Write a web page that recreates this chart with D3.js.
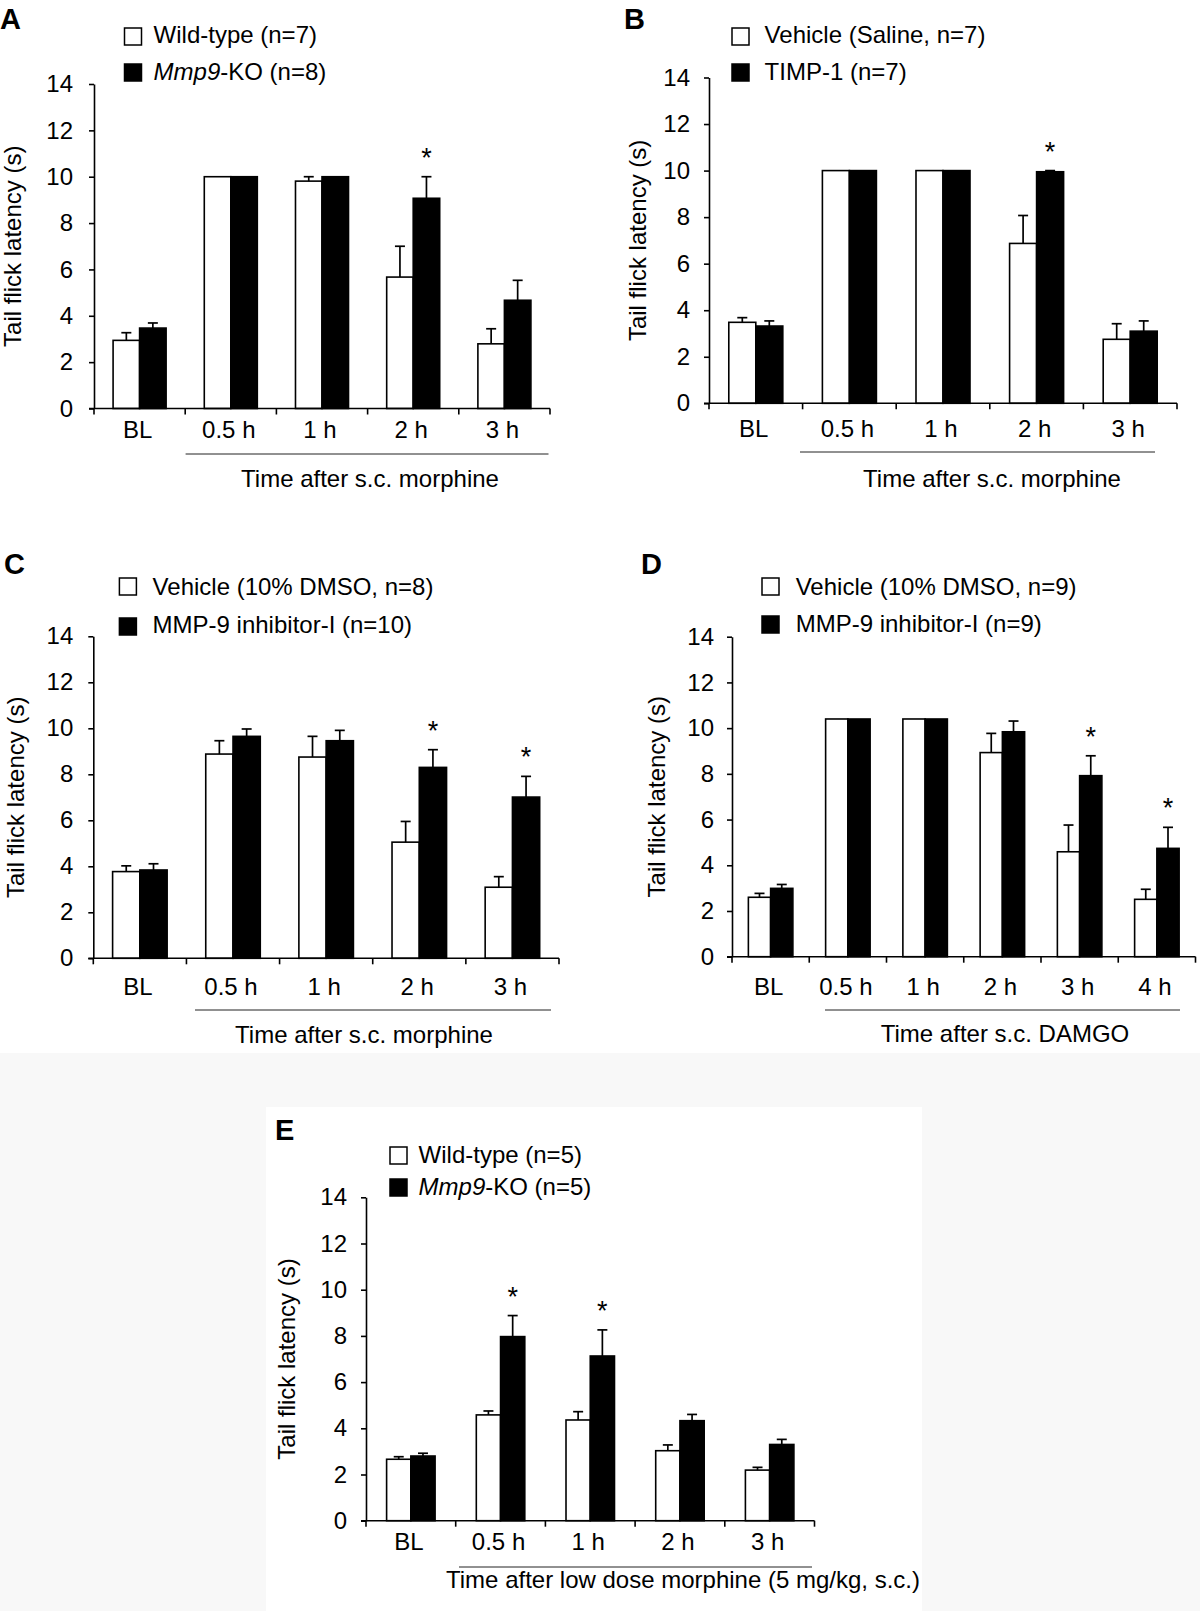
<!DOCTYPE html>
<html><head><meta charset="utf-8">
<script src="https://cdn.jsdelivr.net/npm/d3@7"></script>
<style>
html,body{margin:0;padding:0;background:#fff;}
svg{display:block;}
text{font-family:"Liberation Sans",Arial,Helvetica,sans-serif;fill:#000;}
</style></head><body>
<svg id="fig" width="1200" height="1611"></svg>
<script>
// ---------------- DATA ----------------
const yTicks = [0, 2, 4, 6, 8, 10, 12, 14];

const catsA = ["BL", "0.5 h", "1 h", "2 h", "3 h"];
const wtA = [2.94, 10, 9.81, 5.67, 2.79];
const wtErrA = [0.33, 0, 0.19, 1.33, 0.65];
const koA = [3.47, 10, 10, 9.07, 4.67];
const koErrA = [0.22, 0, 0, 0.93, 0.86];
const sigA = [0, 0, 0, 1, 0];
const legendA = ["Wild-type (n=7)", "Mmp9-KO (n=8)"];
const xTitleA = "Time after s.c. morphine";

const catsB = ["BL", "0.5 h", "1 h", "2 h", "3 h"];
const wtB = [3.48, 10, 10, 6.87, 2.75];
const wtErrB = [0.20, 0, 0, 1.20, 0.67];
const koB = [3.32, 10, 10, 9.95, 3.10];
const koErrB = [0.22, 0, 0, 0.05, 0.44];
const sigB = [0, 0, 0, 1, 0];
const legendB = ["Vehicle (Saline, n=7)", "TIMP-1 (n=7)"];
const xTitleB = "Time after s.c. morphine";

const catsC = ["BL", "0.5 h", "1 h", "2 h", "3 h"];
const wtC = [3.77, 8.88, 8.75, 5.05, 3.09];
const wtErrC = [0.25, 0.58, 0.90, 0.90, 0.46];
const koC = [3.84, 9.65, 9.46, 8.30, 7.01];
const koErrC = [0.27, 0.32, 0.45, 0.77, 0.90];
const sigC = [0, 0, 0, 1, 1];
const legendC = ["Vehicle (10% DMSO, n=8)", "MMP-9 inhibitor-I (n=10)"];
const xTitleC = "Time after s.c. morphine";

const catsD = ["BL", "0.5 h", "1 h", "2 h", "3 h", "4 h"];
const wtD = [2.60, 10.4, 10.4, 8.93, 4.59, 2.51];
const wtErrD = [0.17, 0, 0, 0.84, 1.17, 0.44];
const koD = [2.99, 10.4, 10.4, 9.84, 7.92, 4.74];
const koErrD = [0.17, 0, 0, 0.47, 0.87, 0.92];
const sigD = [0, 0, 0, 0, 1, 1];
const legendD = ["Vehicle (10% DMSO, n=9)", "MMP-9 inhibitor-I (n=9)"];
const xTitleD = "Time after s.c. DAMGO";

const catsE = ["BL", "0.5 h", "1 h", "2 h", "3 h"];
const wtE = [2.66, 4.58, 4.36, 3.03, 2.19];
const wtErrE = [0.11, 0.17, 0.36, 0.25, 0.12];
const koE = [2.80, 7.97, 7.13, 4.33, 3.30];
const koErrE = [0.12, 0.91, 1.13, 0.27, 0.22];
const sigE = [0, 1, 1, 0, 0];
const legendE = ["Wild-type (n=5)", "Mmp9-KO (n=5)"];
const xTitleE = "Time after low dose morphine (5 mg/kg, s.c.)";

const yTitle = "Tail flick latency (s)";

// ---------------- LAYOUT ----------------
const panels = [
  {letter:"A", cats:catsA, wt:wtA, wtErr:wtErrA, ko:koA, koErr:koErrA, sig:sigA, legend:legendA, xTitle:xTitleA,
   x0:94, x1:550, y0:408.5, y14:84, pad:0.72, tickPad:16, let:[0,29], legX:124.5, legY:[28,64], legTX:153.6, legB:[43,80],
   yTX:21, tickB:438, br:[185.6,548.5,454], tX:370, tB:487},
  {letter:"B", cats:catsB, wt:wtB, wtErr:wtErrB, ko:koB, koErr:koErrB, sig:sigB, legend:legendB, xTitle:xTitleB,
   x0:709, x1:1177, y0:403.3, y14:77.5, pad:0.733, tickPad:14, let:[624,29], legX:732, legY:[28,64], legTX:764.6, legB:[43,80],
   yTX:646, tickB:436.5, br:[800,1155,452], tX:992, tB:487},
  {letter:"C", cats:catsC, wt:wtC, wtErr:wtErrC, ko:koC, koErr:koErrC, sig:sigC, legend:legendC, xTitle:xTitleC,
   x0:93.3, x1:559, y0:958.3, y14:636.3, pad:0.708, tickPad:15, let:[4,574], legX:119.4, legY:[578,618], legTX:152.6, legB:[595,633],
   yTX:24, tickB:995, br:[195,551,1010], tX:364, tB:1043},
  {letter:"D", cats:catsD, wt:wtD, wtErr:wtErrD, ko:koD, koErr:koErrD, sig:sigD, legend:legendD, xTitle:xTitleD,
   x0:732, x1:1195.5, y0:956.7, y14:636.7, pad:0.736, tickPad:13, let:[641,574], legX:762, legY:[578,616], legTX:795.7, legB:[595,632],
   yTX:665, tickB:995, br:[825,1180,1010], tX:1005, tB:1042},
  {letter:"E", cats:catsE, wt:wtE, wtErr:wtErrE, ko:koE, koErr:koErrE, sig:sigE, legend:legendE, xTitle:xTitleE,
   x0:366, x1:814.5, y0:1520.7, y14:1197.3, pad:0.85, tickPad:14, let:[275,1140], legX:390, legY:[1147,1179], legTX:418.6, legB:[1163,1195],
   yTX:295, tickB:1550, br:[459,812,1567], tX:683, tB:1588}
];

const svg = d3.select("#fig");
// backgrounds
svg.append("rect").attr("x",0).attr("y",0).attr("width",1200).attr("height",1611).attr("fill","#fff");
svg.append("rect").attr("x",0).attr("y",1053).attr("width",1200).attr("height",558).attr("fill","#f8f8f8");
svg.append("rect").attr("x",266).attr("y",1107).attr("width",656).attr("height",504).attr("fill","#fff");

const FS = 24;

function legendText(t, s){
  if (s.startsWith("Mmp9")){
    t.append("tspan").attr("font-style","italic").text("Mmp9");
    t.append("tspan").text(s.slice(4));
  } else t.text(s);
}

panels.forEach(P => {
  const g = svg.append("g");
  const x = d3.scaleBand().domain(P.cats).range([P.x0, P.x1]).padding(0);
  const xi = d3.scaleBand().domain(["wt","ko"]).range([0, x.bandwidth()]).paddingInner(0).paddingOuter(P.pad);
  const y = d3.scaleLinear().domain([0,14]).range([P.y0, P.y14]);

  // panel letter
  g.append("text").attr("x",P.let[0]).attr("y",P.let[1]).attr("font-size",29).attr("font-weight","bold").text(P.letter);

  // legend
  ["#fff","#000"].forEach((c,i) => {
    g.append("rect").attr("x",P.legX).attr("y",P.legY[i]).attr("width",17).attr("height",17)
      .attr("fill",c).attr("stroke","#000").attr("stroke-width",1.5);
    const t = g.append("text").attr("x",P.legTX).attr("y",P.legB[i]).attr("font-size",FS);
    legendText(t, P.legend[i]);
  });

  // bars
  const series = [
    {key:"wt", vals:P.wt, errs:P.wtErr, fill:"#fff"},
    {key:"ko", vals:P.ko, errs:P.koErr, fill:"#000"}
  ];
  series.forEach(s => {
    g.selectAll(null).data(P.cats).enter().append("rect")
      .attr("x", c => x(c) + xi(s.key))
      .attr("width", xi.bandwidth())
      .attr("y", (c,i) => y(s.vals[i]))
      .attr("height", (c,i) => y(0) - y(s.vals[i]))
      .attr("fill", s.fill).attr("stroke","#000").attr("stroke-width",1.6);
  });
  // error bars
  series.forEach(s => {
    P.cats.forEach((c,i) => {
      if (!(s.errs[i] > 0)) return;
      const cx = x(c) + xi(s.key) + xi.bandwidth()/2;
      const yt = y(s.vals[i] + s.errs[i]);
      g.append("line").attr("x1",cx).attr("x2",cx).attr("y1",y(s.vals[i])).attr("y2",yt)
        .attr("stroke","#000").attr("stroke-width",1.7);
      g.append("line").attr("x1",cx-5).attr("x2",cx+5).attr("y1",yt).attr("y2",yt)
        .attr("stroke","#000").attr("stroke-width",1.7);
    });
  });
  // asterisks
  P.cats.forEach((c,i) => {
    if (!P.sig[i]) return;
    const cx = x(c) + xi("ko") + xi.bandwidth()/2;
    g.append("text").attr("x",cx).attr("y", y(P.ko[i] + P.koErr[i]) - 10)
      .attr("text-anchor","middle").attr("font-size",27).text("*");
  });

  // y axis
  const ya = g.append("g").attr("transform",`translate(${P.x0},0)`)
    .call(d3.axisLeft(y).tickValues(yTicks).tickSize(5).tickSizeOuter(0).tickPadding(P.tickPad).tickFormat(d3.format("d")));
  ya.attr("font-size",FS).attr("font-family",null);
  ya.selectAll("path,line").attr("stroke","#000").attr("stroke-width",1.6);
  ya.selectAll("text").attr("fill","#000");

  // x axis line and boundary ticks
  g.append("line").attr("x1",P.x0-5).attr("x2",P.x1).attr("y1",P.y0).attr("y2",P.y0)
    .attr("stroke","#000").attr("stroke-width",1.6);
  const bounds = P.cats.map(c => x(c)).concat([x.range()[1]]);
  g.selectAll(null).data(bounds).enter().append("line")
    .attr("x1",d=>d).attr("x2",d=>d).attr("y1",P.y0).attr("y2",P.y0+6)
    .attr("stroke","#000").attr("stroke-width",1.6);
  // category labels
  g.selectAll(null).data(P.cats).enter().append("text")
    .attr("x", c => x(c) + x.bandwidth()/2 - 2).attr("y", P.tickB)
    .attr("text-anchor","middle").attr("font-size",FS).text(c => c);

  // bracket and title
  g.append("line").attr("x1",P.br[0]).attr("x2",P.br[1]).attr("y1",P.br[2]).attr("y2",P.br[2])
    .attr("stroke","#222").attr("stroke-width",1);
  g.append("text").attr("x",P.tX).attr("y",P.tB).attr("text-anchor","middle").attr("font-size",FS).text(P.xTitle);

  // y title
  g.append("text").attr("transform",`translate(${P.yTX},${(P.y0+P.y14)/2}) rotate(-90)`)
    .attr("text-anchor","middle").attr("font-size",FS).text(yTitle);
});
</script>
</body></html>
